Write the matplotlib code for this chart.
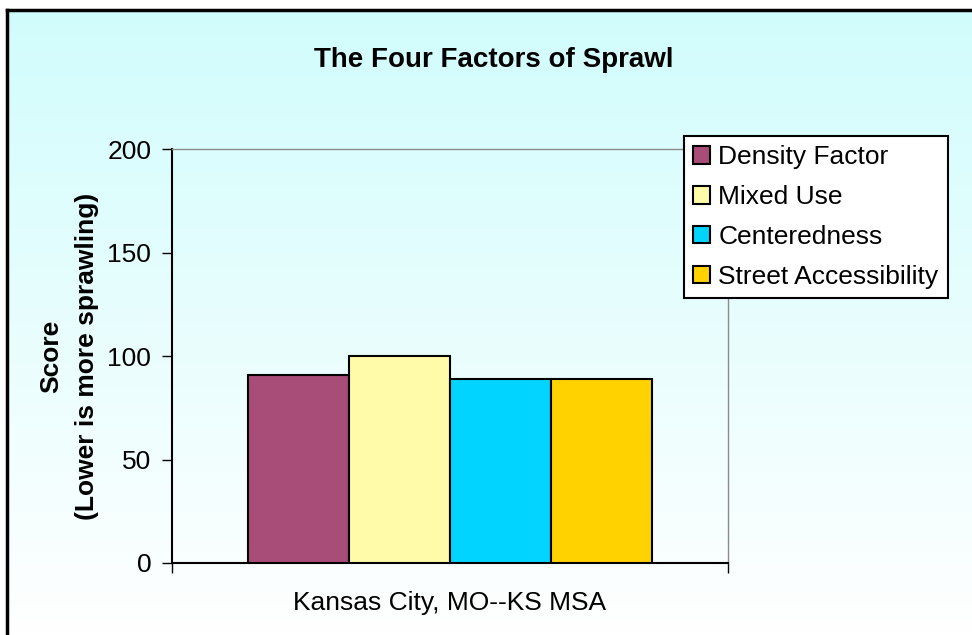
import numpy as np
import matplotlib.pyplot as plt

plt.rcParams['font.family'] = ['Liberation Sans', 'DejaVu Sans']

city = "Kansas City, MO--KS MSA"
factors = ["Density Factor", "Mixed Use", "Centeredness", "Street Accessibility"]
scores = [91, 100, 89, 89]
colors = ['#A84C78', '#FFFBA8', '#00D4FF', '#FFD200']
yticks = [0, 50, 100, 150, 200]

fig = plt.figure(figsize=(9.72, 6.35), dpi=100)
fig.patch.set_facecolor('white')

# background with a cyan-to-white gradient and black frame on left/top
bg = fig.add_axes([7/972, 0, 1 - 7/972, 1 - 10/635])
grad = np.linspace(0, 1, 256).reshape(-1, 1)
top = np.array([0.82, 0.99, 0.99])
bottom = np.array([1.0, 1.0, 1.0])
img = top * (1 - grad[..., None]) + bottom * grad[..., None]
img = img.reshape(256, 1, 3)
bg.imshow(img, aspect='auto', extent=[0, 1, 0, 1], zorder=0)
bg.set_xlim(0, 1)
bg.set_ylim(0, 1)
bg.axis('off')
bg.plot([0, 0], [0, 1], color='black', lw=2.5, clip_on=False, solid_capstyle='projecting')
bg.plot([0, 1], [1, 1], color='black', lw=2.5, clip_on=False, solid_capstyle='projecting')

ax = fig.add_axes([172/972, 1 - 563/635, 556/972, (563 - 149)/635])
ax.set_facecolor('none')

w = 0.182
offsets = (np.arange(len(factors)) - 1.5) * w
for off, s, c, lab in zip(offsets, scores, colors, factors):
    ax.bar(off, s, width=w, color=c, edgecolor='black', linewidth=1.5, label=lab, zorder=3)

ax.set_xlim(-0.5, 0.5)
ax.set_ylim(0, 200)
ax.set_yticks(yticks)
ax.tick_params(axis='y', direction='out', length=7, width=1, labelsize=19, pad=8, colors='black')
ax.set_xticks([-0.5, 0.5])
ax.set_xticklabels(['', ''])
ax.tick_params(axis='x', direction='out', length=7, width=1)
ax.set_xticks([0], [city], minor=True)
ax.tick_params(axis='x', which='minor', length=0, labelsize=19, pad=20)

for side in ['top', 'right']:
    ax.spines[side].set_color('#8a8a8a')
    ax.spines[side].set_linewidth(1)
for side in ['left', 'bottom']:
    ax.spines[side].set_color('black')
    ax.spines[side].set_linewidth(1.5)

ax.set_ylabel("Score\n(Lower is more sprawling)", fontsize=19, fontweight='bold', labelpad=6,
              linespacing=1.6)

fig.text(0.508, 1 - 60/635, "The Four Factors of Sprawl", ha='center', va='center',
         fontsize=20, fontweight='bold')

leg = ax.legend(loc='upper left', bbox_to_anchor=(684/972, 1 - 136/635),
                bbox_transform=fig.transFigure, fontsize=19, frameon=True, fancybox=False,
                edgecolor='black', facecolor='white', framealpha=1,
                handlelength=0.65, handleheight=0.65, handletextpad=0.3,
                labelspacing=0.6, borderpad=0.35, borderaxespad=0)
leg.get_frame().set_linewidth(1.5)

plt.savefig("out.png", dpi=100)
